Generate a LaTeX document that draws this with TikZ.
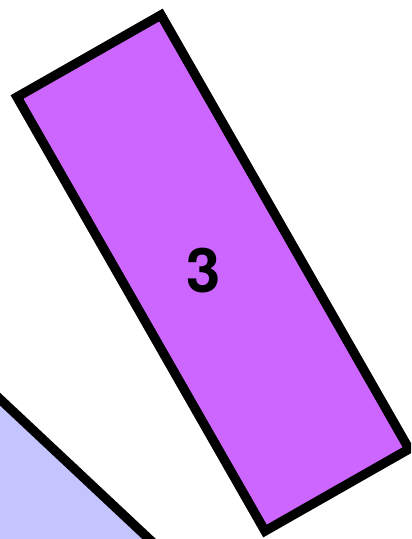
\documentclass[tikz,border=0pt]{standalone}
\usepackage{fontspec}
\setmainfont{TeX Gyre Heros}
\usepackage{tikz}
\definecolor{slabpurple}{HTML}{CC66FF}
\definecolor{slabblue}{HTML}{C4C4FF}
\tikzset{
  slab/.style={draw=black,line width=7pt,line join=miter},
  slablabel/.style={font=\fontsize{46}{50}\selectfont\bfseries,inner sep=0pt}
}
\begin{document}
\begin{tikzpicture}[x=0.75pt,y=-0.75pt]
\useasboundingbox (0,0) rectangle (411,539);
\clip (0,0) rectangle (411,539);

% neighbouring slab, only its corner is visible
\fill[slabblue] (-30,371) -- (179,567) -- (-30,567) -- cycle;
\draw[slab] (-30,371) -- (179,567);

% tilted slab
\draw[slab,fill=slabpurple] (161,15) -- (409,449) -- (265,531) -- (17,97) -- cycle;
\node[slablabel] (three) at (204,271) {3};

\end{tikzpicture}
\end{document}
